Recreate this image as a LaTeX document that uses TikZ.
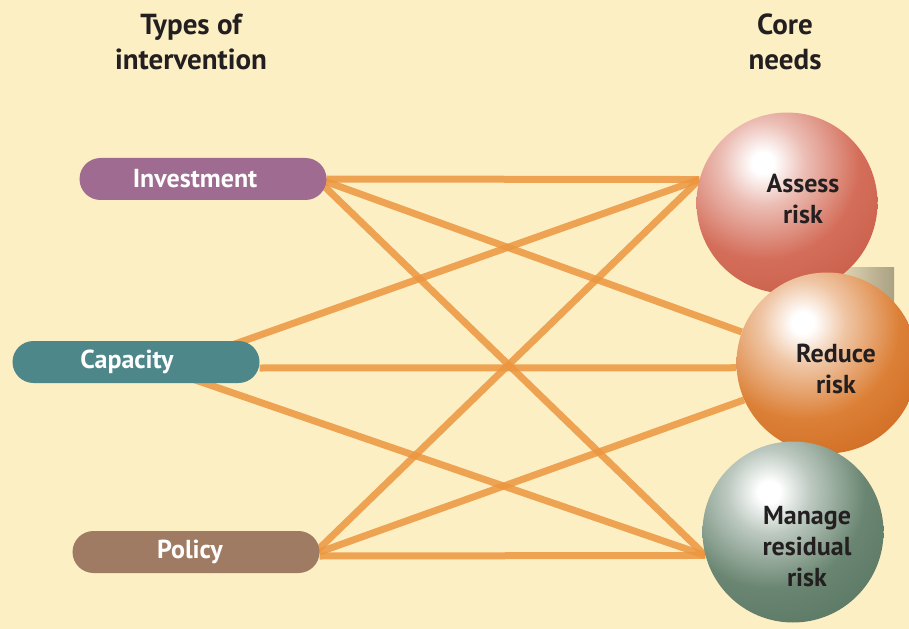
\documentclass[tikz,border=0pt]{standalone}
\usepackage{fontspec}
\setmainfont{PT Sans}
\usetikzlibrary{shapes.misc}
\definecolor{bg}{RGB}{253,239,196}
\definecolor{linec}{RGB}{236,150,63}
\definecolor{invc}{RGB}{160,107,144}
\definecolor{capc}{RGB}{77,135,137}
\definecolor{polc}{RGB}{160,123,99}
\definecolor{txt}{RGB}{35,31,32}
\definecolor{asbase}{RGB}{212,110,90}
\definecolor{asdark}{RGB}{198,92,72}
\definecolor{rebase}{RGB}{220,128,55}
\definecolor{redark}{RGB}{206,106,32}
\definecolor{mabase}{RGB}{106,134,114}
\definecolor{madark}{RGB}{88,118,98}
\definecolor{shadeA}{RGB}{222,212,178}
\definecolor{shadeB}{RGB}{170,160,130}
\pgfdeclareradialshading{assessball}{\pgfpointorigin}{%
  color(0bp)=(white); color(1.8bp)=(white); color(7bp)=(asbase!45!white);
  color(16bp)=(asbase); color(26bp)=(asdark); color(50bp)=(asdark)}
\pgfdeclareradialshading{reduceball}{\pgfpointorigin}{%
  color(0bp)=(white); color(1.8bp)=(white); color(7bp)=(rebase!45!white);
  color(16bp)=(rebase); color(26bp)=(redark); color(50bp)=(redark)}
\pgfdeclareradialshading{manageball}{\pgfpointorigin}{%
  color(0bp)=(white); color(1.8bp)=(white); color(7bp)=(mabase!45!white);
  color(16bp)=(mabase); color(26bp)=(madark); color(50bp)=(madark)}
\newcommand\drawball[2]{%
  \begin{scope}
    \clip (#1.center) circle[radius=90.5bp];
    \shade[shading=#2] ([shift={(-174bp,-110bp)}]#1.center)
      rectangle ([shift={(126bp,190bp)}]#1.center);
  \end{scope}}
\tikzset{
  pill/.style={rounded rectangle, minimum width=247bp, minimum height=42bp,
    inner sep=0pt},
  pilltext/.style={text=white, font=\fontsize{26bp}{30bp}\selectfont\bfseries},
  ball/.style={circle, minimum size=181bp, inner sep=0pt},
  balltext/.style={align=center, text=txt,
    font=\fontsize{26bp}{31bp}\selectfont\bfseries},
  head/.style={align=center, text=txt,
    font=\fontsize{29bp}{35bp}\selectfont\bfseries},
  link/.style={draw=linec, line width=7bp, draw opacity=0.85}
}
\begin{document}
\begin{tikzpicture}[x=1bp,y=-1bp]
\fill[bg] (0,0) rectangle (909,629);
\useasboundingbox (0,0) rectangle (909,629);
% headings
\node[head] (h1) at (191,42) {Types of\\intervention};
\node[head] (h2) at (785,42) {Core\\needs};
% shapes (placement)
\node[pill] (inv) at (203,179) {};
\node[pill] (cap) at (136,362) {};
\node[pill] (pol) at (196,552) {};
\node[ball] (assess) at (787,203) {};
\node[ball] (reduce) at (827,363) {};
\node[ball] (manage) at (793,532) {};
% connectors
\draw[link] (inv.east) -- (assess.165);
\draw[link] ([xshift=-8bp]inv.east) -- (reduce.160);
\draw[link] ([xshift=-10bp]inv.east) -- (manage.195);
\draw[link] ([xshift=48bp]cap.center) -- (assess.165);
\draw[link] ([yshift=-6bp]cap.east) -- (reduce.183);
\draw[link] ([xshift=7bp]cap.center) -- (manage.195);
\draw[link] ([xshift=-4bp]pol.east) -- (assess.165);
\draw[link] (pol.east) -- (reduce.204);
\draw[link] ([yshift=-4bp]pol.east) -- (manage.195);
% shadow square and spheres
\fill[left color=shadeA, right color=shadeB] (843,267) rectangle (894,302);
\drawball{assess}{assessball}
\drawball{reduce}{reduceball}
\drawball{manage}{manageball}
\node[balltext] (assessT) at (803,199) {Assess\\risk};
\node[balltext] (reduceT) at (836,369) {Reduce\\risk};
\node[balltext] (manageT) at (807,547) {Manage\\residual\\risk};
% pills
\node[pill, fill=invc] (invB) at (inv) {};
\node[pill, fill=capc] (capB) at (cap) {};
\node[pill, fill=polc] (polB) at (pol) {};
\node[pilltext] (invT) at ([xshift=-8bp]inv.center) {Investment};
\node[pilltext] (capT) at ([xshift=-9bp]cap.center) {Capacity};
\node[pilltext] (polT) at ([xshift=-6bp]pol.center) {Policy};
\end{tikzpicture}
\end{document}
